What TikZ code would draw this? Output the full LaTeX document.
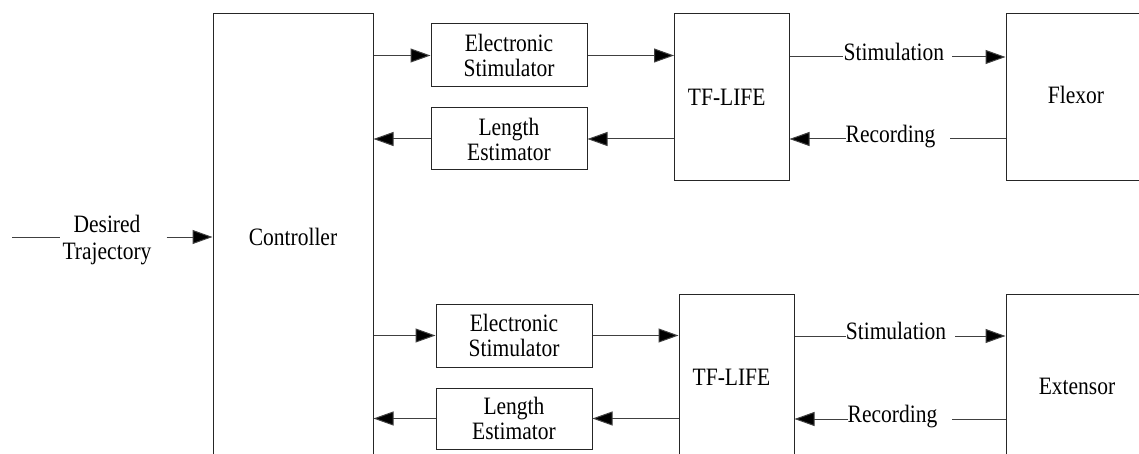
\documentclass[tikz,border=0pt]{standalone}
\usepackage{fontspec}
\setmainfont{Liberation Serif}
\newfontfamily\tnr[FakeStretch=0.86]{Liberation Serif}
\usetikzlibrary{arrows.meta}
\begin{document}
\begin{tikzpicture}[x=1pt,y=-1pt,
  box/.style={draw=black!85, line width=1pt, inner sep=0pt, align=center},
  lbl/.style={inner xsep=0pt, inner ysep=0pt, text height=.7em, text depth=0pt},
  ln/.style={draw=black!75, line width=1pt},
  arr/.style={ln, -{Triangle[length=20pt,width=14pt,fill=black]}},
  font=\tnr\fontsize{25}{25}\selectfont]
\useasboundingbox (0,0) rectangle (1139,454);
\clip (0,0) rectangle (1139,454);
\fill[white] (0,0) rectangle (1139,454);

% main blocks
\node[box, minimum width=160, minimum height=446] (ctrl) at (293,237) {Controller};
\node[box, minimum width=156, minimum height=63] (es1) at (509,55.5) {Electronic\\Stimulator};
\node[box, minimum width=156, minimum height=62] (le1) at (509,139) {Length\\Estimator};
\node[box, minimum width=114.5, minimum height=167] (tf1) at (731.75,97.5) {\hspace*{-10pt}TF-LIFE};
\node[box, minimum width=160, minimum height=167] (flex) at (1086,97.5) {};
\node at ([xshift=-10,yshift=2.5]flex.center) {Flexor};

\node[box, minimum width=156, minimum height=63] (es2) at (514,335.5) {Electronic\\Stimulator};
\node[box, minimum width=156, minimum height=61] (le2) at (514,418.5) {Length\\Estimator};
\node[box, minimum width=115, minimum height=166] (tf2) at (736.5,377) {\hspace*{-10pt}TF-LIFE};
\node[box, minimum width=160, minimum height=166] (ext) at (1086,377) {};
\node at ([xshift=-9,yshift=-9]ext.center) {Extensor};

% input
\coordinate (start) at (12,237);
\node[align=center, inner xsep=2pt, font=\tnr\fontsize{25}{27}\selectfont] (des) at (107,240) {Desired\\Trajectory};
\draw[ln] (start) -- (des.west |- start);
\draw[arr] ([xshift=13]des.east |- start) -- (ctrl.west |- start);

% upper channel
\draw[arr] (ctrl.east |- es1.west) -- (es1.west);
\draw[arr] (le1.west) -- (ctrl.east |- le1.west);
\draw[arr] (es1.east) -- (tf1.west |- es1.east);
\draw[arr] (tf1.west |- le1.east) -- (le1.east);
\node[lbl] (st1) at (893.8,57) {Stimulation};
\draw[ln] (tf1.east |- st1.west) -- (st1.west);
\draw[arr] ([xshift=8]st1.east) -- (flex.west |- st1.east);
\node[lbl] (rc1) at (890.5,139) {Recording};
\draw[arr] (rc1.west) -- (tf1.east |- rc1.west);
\draw[ln] ([xshift=15]rc1.east) -- (flex.west |- rc1.east);

% lower channel
\draw[arr] (ctrl.east |- es2.west) -- (es2.west);
\draw[arr] (le2.west) -- (ctrl.east |- le2.west);
\draw[arr] (es2.east) -- (tf2.west |- es2.east);
\draw[arr] (tf2.west |- le2.east) -- (le2.east);
\node[lbl] (st2) at (896,336) {Stimulation};
\draw[ln] (tf2.east |- st2.west) -- (st2.west);
\draw[arr] ([xshift=9]st2.east) -- (ext.west |- st2.east);
\node[lbl] (rc2) at (892.5,419) {Recording};
\draw[arr] (rc2.west) -- (tf2.east |- rc2.west);
\draw[ln] ([xshift=15]rc2.east) -- (ext.west |- rc2.east);
\end{tikzpicture}
\end{document}
